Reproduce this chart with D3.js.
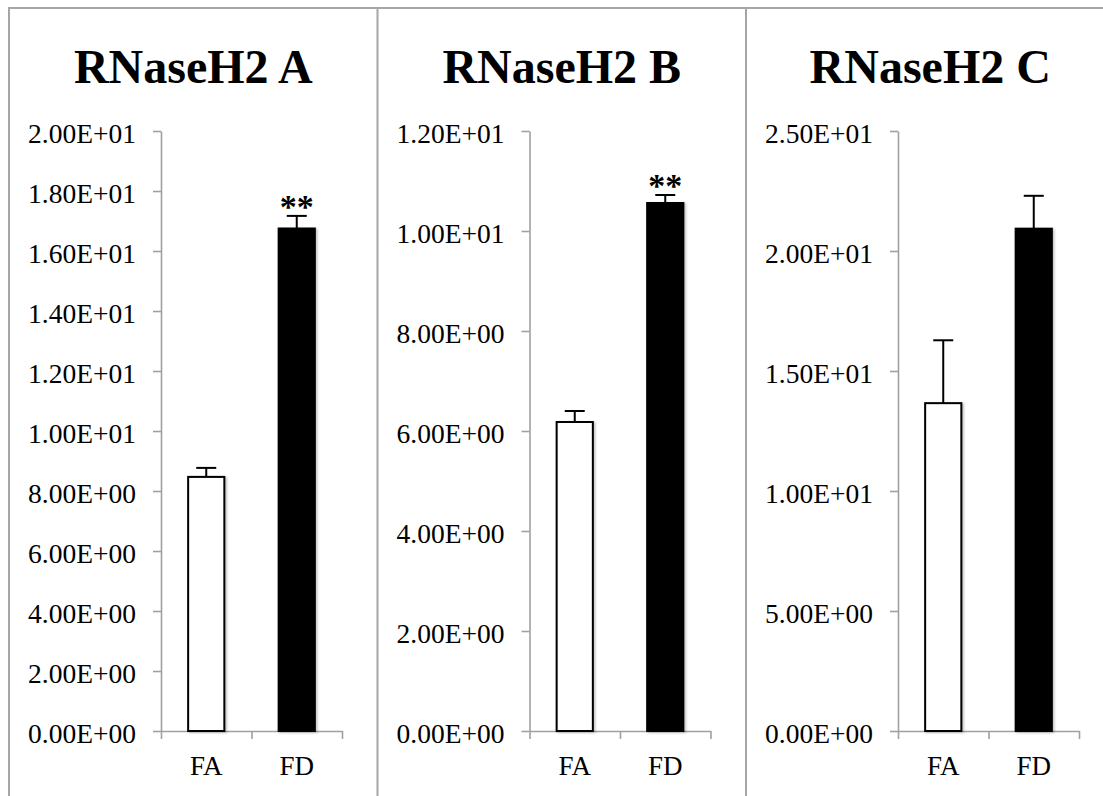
<!DOCTYPE html>
<html>
<head>
<meta charset="utf-8">
<script src="https://cdn.jsdelivr.net/npm/d3@7"></script>
<style>
  body { margin: 0; background: #fff; }
  .tick text { font-family: "Liberation Serif", serif; fill: #000; }
  .axis path, .axis line { stroke: #a0a0a0; stroke-width: 1.6; }
</style>
</head>
<body>
<div id="chart"></div>
<script>
// data
var categories = ["FA", "FD"];
var titles = ["RNaseH2 A", "RNaseH2 B", "RNaseH2 C"];

var meanA = [8.47, 16.75];
var errA = [0.30, 0.42];
var starsA = ["", "**"];
var ticksA = [0, 2, 4, 6, 8, 10, 12, 14, 16, 18, 20];

var meanB = [6.18, 10.56];
var errB = [0.22, 0.16];
var starsB = ["", "**"];
var ticksB = [0, 2, 4, 6, 8, 10, 12];

var meanC = [13.66, 20.93];
var errC = [2.62, 1.37];
var starsC = ["", ""];
var ticksC = [0, 5, 10, 15, 20, 25];

var panels = [
    { title: titles[0], mean: meanA, err: errA, stars: starsA, ticks: ticksA },
    { title: titles[1], mean: meanB, err: errB, stars: starsB, ticks: ticksB },
    { title: titles[2], mean: meanC, err: errC, stars: starsC, ticks: ticksC },
];

var svgWidth = 1103;
var svgHeight = 796;
var panelWidth = 368.5;
var frameLeft = 9;
var frameTop = 8;

var margin = { top: 131, left: 152, bottom: 63 };
var plotWidth = 181;
var plotHeight = svgHeight - margin.top - margin.bottom - 2;

// Excel style "2.00E+01"
function sci(v) {
    var s = v.toExponential(2).toUpperCase();
    var parts = s.split("E");
    var sign = parts[1][0];
    var exp = parts[1].slice(1);
    if (exp.length < 2) exp = "0" + exp;
    return parts[0] + "E" + sign + exp;
}

var svg = d3
    .select("#chart")
    .append("svg")
    .attr("width", svgWidth)
    .attr("height", svgHeight);

var defs = svg.append("defs");
defs.append("filter")
    .attr("id", "shadow")
    .attr("x", "-20%").attr("y", "-5%")
    .attr("width", "140%").attr("height", "110%")
    .append("feDropShadow")
    .attr("dx", 1.5).attr("dy", 1)
    .attr("stdDeviation", 1.2)
    .attr("flood-color", "#000")
    .attr("flood-opacity", 0.25);

// frame and separators
svg.append("rect")
    .attr("x", frameLeft)
    .attr("y", frameTop)
    .attr("width", panelWidth * 3 + 10)
    .attr("height", svgHeight)
    .attr("fill", "none")
    .attr("stroke", "#a6a6a6")
    .attr("stroke-width", 2);

panels.forEach(function(p, i) {
    var left = frameLeft + i * panelWidth;

    if (i > 0) {
        svg.append("line")
            .attr("x1", left).attr("x2", left)
            .attr("y1", frameTop).attr("y2", svgHeight)
            .attr("stroke", "#a6a6a6")
            .attr("stroke-width", 2);
    }

    var g = svg.append("g")
        .attr("transform", `translate(${left + margin.left}, ${margin.top})`);

    // title
    svg.append("text")
        .attr("x", left + panelWidth / 2)
        .attr("y", 83)
        .attr("text-anchor", "middle")
        .attr("font-family", "'Liberation Serif', serif")
        .attr("font-weight", "bold")
        .attr("font-size", 48)
        .text(p.title);

    var yScale = d3.scaleLinear()
        .domain([0, d3.max(p.ticks)])
        .range([plotHeight, 0]);

    var xBand = d3.scaleBand()
        .domain(categories)
        .range([0, plotWidth])
        .paddingInner(0.6)
        .paddingOuter(0.3);

    var xEdge = d3.scaleLinear()
        .domain([0, categories.length])
        .range([0, plotWidth]);

    // y axis
    var yAxis = g.append("g")
        .attr("class", "axis")
        .call(d3.axisLeft(yScale)
            .tickValues(p.ticks)
            .tickFormat(sci)
            .tickSize(8)
            .tickSizeOuter(0)
            .tickPadding(17));
    yAxis.selectAll("text")
        .attr("font-size", 27.5)
        .attr("dy", "0.40em");

    // x axis with ticks between categories
    g.append("g")
        .attr("class", "axis")
        .attr("transform", `translate(0, ${plotHeight})`)
        .call(d3.axisBottom(xEdge)
            .tickValues(d3.range(categories.length + 1))
            .tickFormat("")
            .tickSize(8)
            .tickSizeOuter(0));

    var catAxis = g.append("g")
        .attr("transform", `translate(0, ${plotHeight})`)
        .call(d3.axisBottom(xBand).tickSize(0).tickPadding(25));
    catAxis.select(".domain").remove();
    catAxis.selectAll("text").attr("font-size", 27);

    var rows = categories.map(function(c, j) {
        return { cat: c, mean: p.mean[j], err: p.err[j], star: p.stars[j], idx: j };
    });

    // bars
    g.selectAll("rect.bar")
        .data(rows)
        .join("rect")
        .attr("class", "bar")
        .attr("x", (d) => xBand(d.cat))
        .attr("y", (d) => yScale(d.mean))
        .attr("width", xBand.bandwidth())
        .attr("height", (d) => plotHeight - yScale(d.mean))
        .attr("fill", (d) => (d.idx === 0 ? "#fff" : "#000"))
        .attr("stroke", "#000")
        .attr("stroke-width", 2)
        .attr("filter", "url(#shadow)");

    // error bars (upper only)
    var cx = (d) => xBand(d.cat) + xBand.bandwidth() / 2;
    g.selectAll("line.err")
        .data(rows)
        .join("line")
        .attr("class", "err")
        .attr("x1", cx).attr("x2", cx)
        .attr("y1", (d) => yScale(d.mean))
        .attr("y2", (d) => yScale(d.mean + d.err))
        .attr("stroke", "#000")
        .attr("stroke-width", 2);
    g.selectAll("line.cap")
        .data(rows)
        .join("line")
        .attr("class", "cap")
        .attr("x1", (d) => cx(d) - 10).attr("x2", (d) => cx(d) + 10)
        .attr("y1", (d) => yScale(d.mean + d.err))
        .attr("y2", (d) => yScale(d.mean + d.err))
        .attr("stroke", "#000")
        .attr("stroke-width", 2);

    // significance marks
    g.selectAll("text.star")
        .data(rows.filter((d) => d.star))
        .join("text")
        .attr("class", "star")
        .attr("x", cx)
        .attr("y", (d) => yScale(d.mean + d.err) + 2)
        .attr("text-anchor", "middle")
        .attr("font-family", "'Liberation Serif', serif")
        .attr("font-weight", "bold")
        .attr("font-size", 34)
        .text((d) => d.star);
});
</script>
</body>
</html>
